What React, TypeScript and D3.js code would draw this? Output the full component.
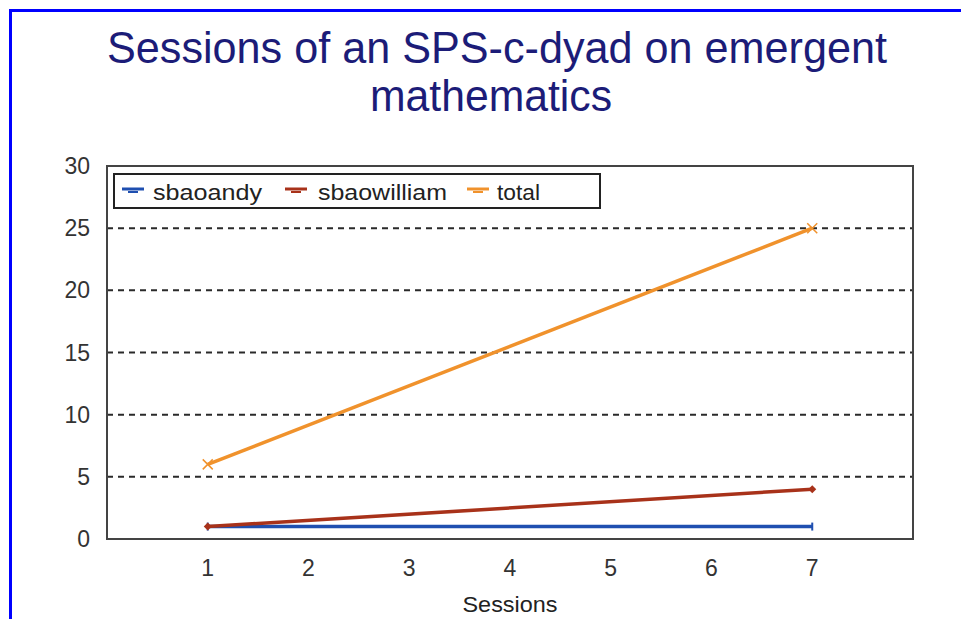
import React from "react";
import * as d3 from "d3";

const sessions = [1, 7];
const sbaoandy = [1, 1];
const sbaowilliam = [1, 4];
const total = [6, 25];
const yTicks = [0, 5, 10, 15, 20, 25, 30];
const xTicks = [1, 2, 3, 4, 5, 6, 7];
const seriesNames = ["sbaoandy", "sbaowilliam", "total"];
const seriesColors = ["#1f4fb0", "#a8321a", "#f0922c"];

const W = 961;
const H = 619;
const plot = { left: 107, top: 166, right: 913, bottom: 539 };

export default function App() {
  const x = d3.scaleLinear().domain([0, 8]).range([plot.left, plot.right]);
  const y = d3.scaleLinear().domain([0, 30]).range([plot.bottom, plot.top]);
  const line = d3
    .line<number>()
    .x((_, i) => x(sessions[i]))
    .y((d) => y(d));
  const allSeries = [sbaoandy, sbaowilliam, total];
  const font = "'Liberation Sans', Arial, sans-serif";

  const marker = (k: number, cx: number, cy: number, key: string) => {
    const c = seriesColors[k];
    if (k === 0)
      return <line key={key} x1={cx} x2={cx} y1={cy - 4} y2={cy + 4} stroke={c} strokeWidth={2} />;
    if (k === 1)
      return (
        <path key={key} d={`M${cx - 4},${cy} L${cx},${cy - 4} L${cx + 4},${cy} L${cx},${cy + 4} Z`} fill={c} />
      );
    return (
      <path
        key={key}
        d={`M${cx - 5},${cy - 5} L${cx + 5},${cy + 5} M${cx - 5},${cy + 5} L${cx + 5},${cy - 5}`}
        stroke={c}
        strokeWidth={1.5}
      />
    );
  };

  const legendItems = [
    { mx: 122, tx: 153, len: 109 },
    { mx: 285, tx: 318, len: 129 },
    { mx: 467, tx: 497, len: 43 },
  ];

  return (
    <svg width={W} height={H} style={{ position: "absolute", left: 0, top: 0 }} fontFamily={font}>
      <rect x={0} y={0} width={W} height={H} fill="#ffffff" />
      <path d={`M10.5,${H} L10.5,10.5 L${W},10.5`} fill="none" stroke="#0000ff" strokeWidth={3} />
      <text x={497} y={63} textAnchor="middle" fontSize={44} fill="#1c1c78" textLength={780} lengthAdjust="spacingAndGlyphs">
        Sessions of an SPS-c-dyad on emergent
      </text>
      <text x={491} y={111} textAnchor="middle" fontSize={44} fill="#1c1c78" textLength={242} lengthAdjust="spacingAndGlyphs">
        mathematics
      </text>

      {yTicks.slice(1, -1).map((t) => (
        <line
          key={"g" + t}
          x1={plot.left}
          x2={plot.right}
          y1={y(t)}
          y2={y(t)}
          stroke="#2a2a2a"
          strokeWidth={2}
          strokeDasharray="6 5"
        />
      ))}
      <rect
        x={plot.left}
        y={plot.top}
        width={plot.right - plot.left}
        height={plot.bottom - plot.top}
        fill="none"
        stroke="#444"
        strokeWidth={2}
      />
      {yTicks.map((t) => (
        <text key={"y" + t} x={90} y={y(t) + 8} textAnchor="end" fontSize={23} fill="#333">
          {t}
        </text>
      ))}
      {xTicks.map((t) => (
        <text key={"x" + t} x={x(t)} y={576} textAnchor="middle" fontSize={23} fill="#333">
          {t}
        </text>
      ))}
      <text x={510} y={612} textAnchor="middle" fontSize={22} fill="#222" textLength={95} lengthAdjust="spacingAndGlyphs">
        Sessions
      </text>

      {allSeries.map((s, k) => (
        <g key={"s" + k}>
          <path d={line(s) || ""} fill="none" stroke={seriesColors[k]} strokeWidth={3.5} />
          {s.map((v, i) => marker(k, x(sessions[i]), y(v), `m${k}-${i}`))}
        </g>
      ))}

      <rect x={114} y={174} width={486} height={34} fill="#fff" stroke="#222" strokeWidth={2} />
      {seriesNames.map((n, k) => (
        <g key={"l" + k}>
          <line x1={legendItems[k].mx} x2={legendItems[k].mx + 22} y1={189} y2={189} stroke={seriesColors[k]} strokeWidth={3} />
          <line x1={legendItems[k].mx + 6} x2={legendItems[k].mx + 16} y1={192} y2={192} stroke={seriesColors[k]} strokeWidth={2} />
          <text
            x={legendItems[k].tx}
            y={200}
            fontSize={22}
            fill="#222"
            textLength={legendItems[k].len}
            lengthAdjust="spacingAndGlyphs"
          >
            {n}
          </text>
        </g>
      ))}
    </svg>
  );
}
